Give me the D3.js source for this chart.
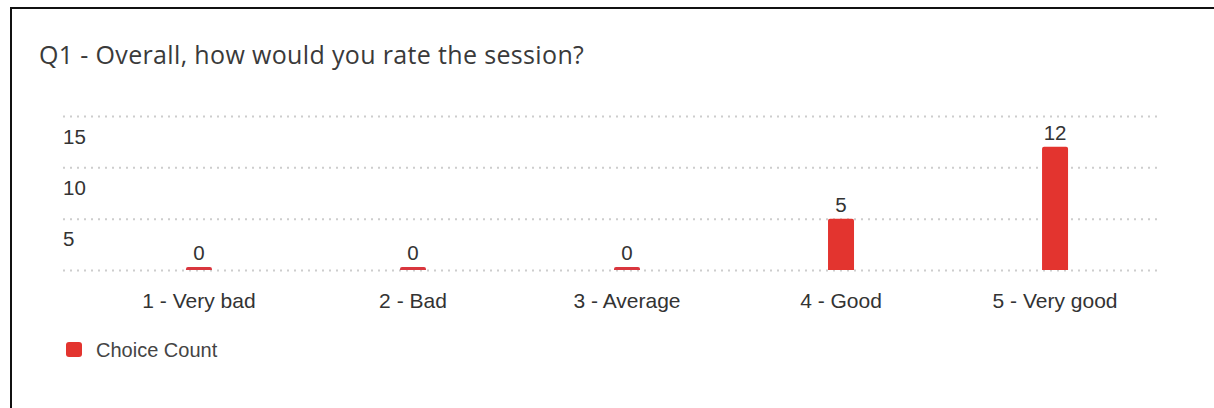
<!DOCTYPE html>
<html>
<head>
<meta charset="utf-8">
<script src="https://cdn.jsdelivr.net/npm/d3@7"></script>
<style>
  body { margin: 0; background: #fff; }
  svg { display: block; }
</style>
</head>
<body>
<div id="chart"></div>
<script>
var svgWidth = 1214;
var svgHeight = 408;

// data
var titleText = "Q1 - Overall, how would you rate the session?";
var categories = ["1 - Very bad", "2 - Bad", "3 - Average", "4 - Good", "5 - Very good"];
var choiceCount = [0, 0, 0, 5, 12];
var yTicks = [0, 5, 10, 15];
var seriesName = "Choice Count";

var barColor = "#e3342f";

var svg = d3.select("#chart")
  .append("svg")
  .attr("width", svgWidth)
  .attr("height", svgHeight);

// frame (only top/left edges are in view)
svg.append("path")
  .attr("d", "M11,408 V8 H1214")
  .attr("fill", "none")
  .attr("stroke", "#111")
  .attr("stroke-width", 2);

svg.append("text")
  .attr("x", 39)
  .attr("y", 64)
  .attr("font-family", "Open Sans, Noto Sans, sans-serif")
  .attr("font-size", 25)
  .attr("letter-spacing", 0.35)
  .attr("fill", "#3a3a3a")
  .text(titleText);

var x = d3.scaleBand()
  .domain(categories)
  .range([92, 1162])
  .paddingInner(0.8785)
  .paddingOuter(0.439);

var y = d3.scaleLinear()
  .domain([0, 15])
  .range([270, 116]);

// gridlines with labels sitting under each line
var grid = svg.append("g")
  .attr("transform", "translate(63,0)")
  .call(d3.axisRight(y)
    .tickValues(yTicks)
    .tickSize(1099)
    .tickFormat(d => d === 0 ? "" : d));

grid.select(".domain").remove();
grid.selectAll(".tick line")
  .attr("stroke", "#cdcdcd")
  .attr("stroke-width", 2)
  .attr("stroke-dasharray", "2,5");
grid.selectAll(".tick text")
  .attr("x", 0)
  .attr("y", 27)
  .attr("dy", null)
  .attr("text-anchor", "start")
  .attr("font-family", "Liberation Sans, Arial, sans-serif")
  .attr("font-size", 20.5)
  .attr("fill", "#333");

// x labels
var xAxis = svg.append("g")
  .attr("transform", "translate(0,270)")
  .call(d3.axisBottom(x).tickSize(0).tickPadding(0));
xAxis.select(".domain").remove();
xAxis.selectAll(".tick text")
  .attr("y", 38)
  .attr("dy", null)
  .attr("font-family", "Liberation Sans, Arial, sans-serif")
  .attr("font-size", 21)
  .attr("fill", "#333");

// bars (zero values still get a thin stub)
var data = categories.map((c, i) => ({ cat: c, val: choiceCount[i] }));

function barTop(d) {
  return Math.min(y(d.val), y(0) - 3);
}

svg.selectAll(".bar")
  .data(data)
  .enter()
  .append("path")
  .attr("class", "bar")
  .attr("fill", d => d.val === 0 ? "#d9363e" : barColor)
  .attr("d", function(d) {
    var x0 = x(d.cat), w = x.bandwidth(), t = barTop(d), b = y(0), r = 2;
    return "M" + x0 + "," + b + "V" + (t + r) + "Q" + x0 + "," + t + " " + (x0 + r) + "," + t +
      "H" + (x0 + w - r) + "Q" + (x0 + w) + "," + t + " " + (x0 + w) + "," + (t + r) + "V" + b + "Z";
  });

svg.selectAll(".val")
  .data(data)
  .enter()
  .append("text")
  .attr("class", "val")
  .attr("x", d => x(d.cat) + x.bandwidth() / 2)
  .attr("y", d => barTop(d) - 7)
  .attr("text-anchor", "middle")
  .attr("font-family", "Liberation Sans, Arial, sans-serif")
  .attr("font-size", 20.5)
  .attr("fill", "#333")
  .text(d => d.val);

// legend
var legend = svg.append("g").attr("transform", "translate(66,342)");
legend.append("rect")
  .attr("width", 16)
  .attr("height", 15)
  .attr("rx", 3)
  .attr("fill", barColor);
legend.append("text")
  .attr("x", 30)
  .attr("y", 15)
  .attr("font-family", "Liberation Sans, Arial, sans-serif")
  .attr("font-size", 20)
  .attr("fill", "#444")
  .text(seriesName);
</script>
</body>
</html>
